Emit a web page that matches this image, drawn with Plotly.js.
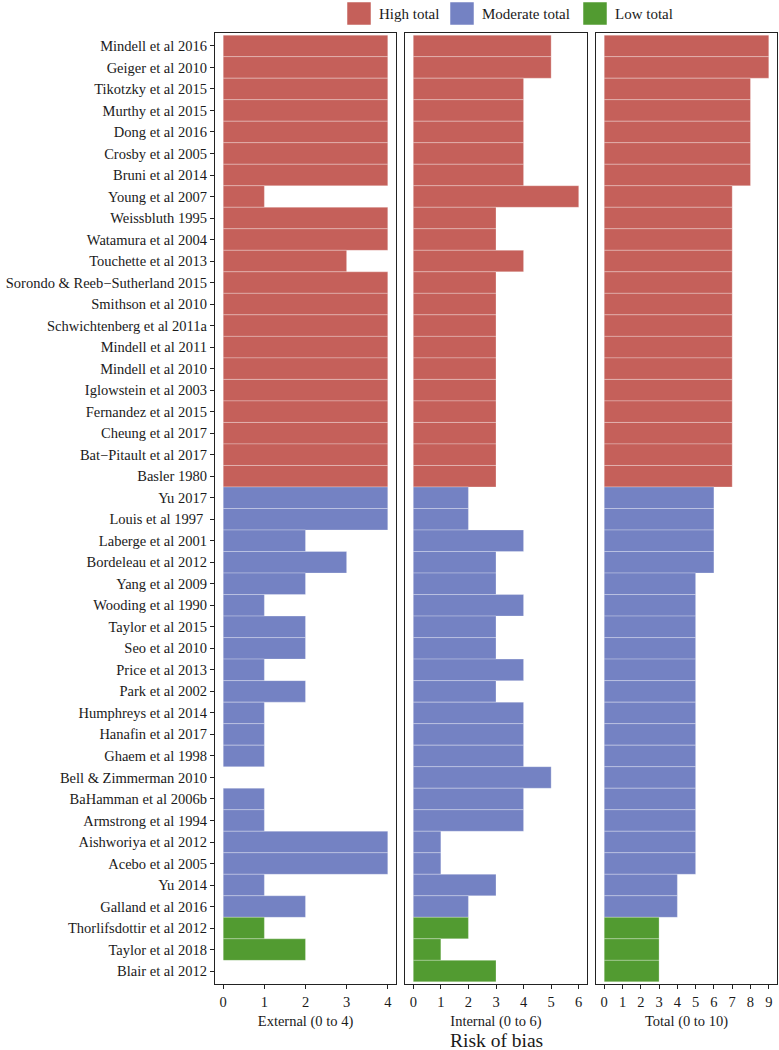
<!DOCTYPE html>
<html>
<head>
<meta charset="utf-8">
<script src="https://cdn.plot.ly/plotly-3.0.1.min.js"></script>
<style>
  body { margin: 0; background: #fff; }
  #chart { width: 779px; height: 1050px; }
</style>
</head>
<body>
<div id="chart"></div>
<script>
const studies = [
    'Mindell et al 2016', 'Geiger et al 2010', 'Tikotzky et al 2015', 'Murthy et al 2015',
    'Dong et al 2016', 'Crosby et al 2005', 'Bruni et al 2014', 'Young et al 2007',
    'Weissbluth 1995', 'Watamura et al 2004', 'Touchette et al 2013', 'Sorondo & Reeb−Sutherland 2015',
    'Smithson et al 2010', 'Schwichtenberg et al 2011a', 'Mindell et al 2011', 'Mindell et al 2010',
    'Iglowstein et al 2003', 'Fernandez et al 2015', 'Cheung et al 2017', 'Bat−Pitault et al 2017',
    'Basler 1980', 'Yu 2017', 'Louis et al 1997 ', 'Laberge et al 2001',
    'Bordeleau et al 2012', 'Yang et al 2009', 'Wooding et al 1990', 'Taylor et al 2015',
    'Seo et al 2010', 'Price et al 2013', 'Park et al 2002', 'Humphreys et al 2014',
    'Hanafin et al 2017', 'Ghaem et al 1998', 'Bell & Zimmerman 2010', 'BaHamman et al 2006b',
    'Armstrong et al 1994', 'Aishworiya et al 2012', 'Acebo et al 2005', 'Yu 2014',
    'Galland et al 2016', 'Thorlifsdottir et al 2012', 'Taylor et al 2018', 'Blair et al 2012'
];

const external = [4, 4, 4, 4, 4, 4, 4, 1, 4, 4, 3, 4, 4, 4, 4, 4, 4, 4, 4, 4, 4,
                  4, 4, 2, 3, 2, 1, 2, 2, 1, 2, 1, 1, 1, 0, 1, 1, 4, 4, 1, 2,
                  1, 2, 0];
const internal = [5, 5, 4, 4, 4, 4, 4, 6, 3, 3, 4, 3, 3, 3, 3, 3, 3, 3, 3, 3, 3,
                  2, 2, 4, 3, 3, 4, 3, 3, 4, 3, 4, 4, 4, 5, 4, 4, 1, 1, 3, 2,
                  2, 1, 3];
const total =    [9, 9, 8, 8, 8, 8, 8, 7, 7, 7, 7, 7, 7, 7, 7, 7, 7, 7, 7, 7, 7,
                  6, 6, 6, 6, 5, 5, 5, 5, 5, 5, 5, 5, 5, 5, 5, 5, 5, 5, 4, 4,
                  3, 3, 3];
const group = [
    'High total', 'High total', 'High total', 'High total', 'High total', 'High total', 'High total',
    'High total', 'High total', 'High total', 'High total', 'High total', 'High total', 'High total',
    'High total', 'High total', 'High total', 'High total', 'High total', 'High total', 'High total',
    'Moderate total', 'Moderate total', 'Moderate total', 'Moderate total', 'Moderate total',
    'Moderate total', 'Moderate total', 'Moderate total', 'Moderate total', 'Moderate total',
    'Moderate total', 'Moderate total', 'Moderate total', 'Moderate total', 'Moderate total',
    'Moderate total', 'Moderate total', 'Moderate total', 'Moderate total', 'Moderate total',
    'Low total', 'Low total', 'Low total'
];

const groupNames = ['High total', 'Moderate total', 'Low total'];
const groupColors = { 'High total': '#C5605A', 'Moderate total': '#7482C3', 'Low total': '#529B31' };

const W = 779, H = 1050;
const px = v => v / W;
const py = v => 1 - v / H;

const font = { family: 'Liberation Serif', size: 14.5, color: '#1a1a1a' };
const barColors = group.map(g => groupColors[g]);

function barTrace(vals, n) {
    return {
        type: 'bar',
        orientation: 'h',
        x: vals,
        y: studies,
        xaxis: 'x' + (n > 1 ? n : ''),
        yaxis: 'y' + (n > 1 ? n : ''),
        width: 1,
        marker: { color: barColors, line: { color: 'rgba(255,255,255,0.35)', width: 0.8 } },
        showlegend: false,
        hoverinfo: 'x+y'
    };
}

const data = [barTrace(external, 1), barTrace(internal, 2), barTrace(total, 3)];

function xAxis(dom, range, ticks, title, n) {
    return {
        domain: dom,
        range: range,
        tickvals: ticks,
        ticks: 'outside', ticklen: 4, tickwidth: 1, tickcolor: '#222',
        showline: true, mirror: true, linecolor: '#222', linewidth: 1.2,
        showgrid: false, zeroline: false,
        anchor: 'y' + (n > 1 ? n : ''),
        tickfont: font,
        title: { text: title, font: font, standoff: 7 },
        fixedrange: true
    };
}

function yAxis(n, labels) {
    return {
        domain: [py(984), py(33)],
        type: 'category',
        categoryorder: 'array',
        categoryarray: studies,
        range: [studies.length - 0.4, -0.6],
        anchor: 'x' + (n > 1 ? n : ''),
        showticklabels: labels,
        ticks: labels ? 'outside' : '',
        ticklen: 4, tickwidth: 1, tickcolor: '#222',
        showline: true, mirror: true, linecolor: '#222', linewidth: 1.2,
        showgrid: false, zeroline: false,
        tickfont: font,
        fixedrange: true
    };
}

// ggplot-style legend across the top
const shapes = [];
const annotations = [];
const legendX = [347, 450, 583];
groupNames.forEach((g, i) => {
    shapes.push({
        type: 'rect', xref: 'paper', yref: 'paper',
        x0: px(legendX[i]), x1: px(legendX[i] + 24), y0: py(25), y1: py(2),
        fillcolor: groupColors[g], line: { color: 'rgba(255,255,255,0.5)', width: 1 }
    });
    annotations.push({
        xref: 'paper', yref: 'paper', x: px(legendX[i] + 30), y: py(13.5),
        xanchor: 'left', yanchor: 'middle', showarrow: false,
        text: g, font: Object.assign({}, font, { size: 15 })
    });
});
annotations.push({
    xref: 'paper', yref: 'paper', x: px(496), y: py(1040),
    xanchor: 'center', yanchor: 'middle', showarrow: false,
    text: 'Risk of bias', font: Object.assign({}, font, { size: 19.5 })
});

const layout = {
    width: W, height: H,
    margin: { l: 0, r: 0, t: 0, b: 0 },
    paper_bgcolor: '#fff', plot_bgcolor: '#fff',
    font: font,
    bargap: 0,
    showlegend: false,
    xaxis: xAxis([px(215), px(396)], [-0.2, 4.2], [0, 1, 2, 3, 4], 'External (0 to 4)', 1),
    xaxis2: xAxis([px(405), px(587)], [-0.3, 6.3], [0, 1, 2, 3, 4, 5, 6], 'Internal (0 to 6)', 2),
    xaxis3: xAxis([px(596), px(777)], [-0.45, 9.45], [0, 1, 2, 3, 4, 5, 6, 7, 8, 9], 'Total (0 to 10)', 3),
    yaxis: yAxis(1, true),
    yaxis2: yAxis(2, false),
    yaxis3: yAxis(3, false),
    shapes: shapes,
    annotations: annotations
};

Plotly.newPlot('chart', data, layout, { displayModeBar: false, staticPlot: true });
</script>
</body>
</html>
